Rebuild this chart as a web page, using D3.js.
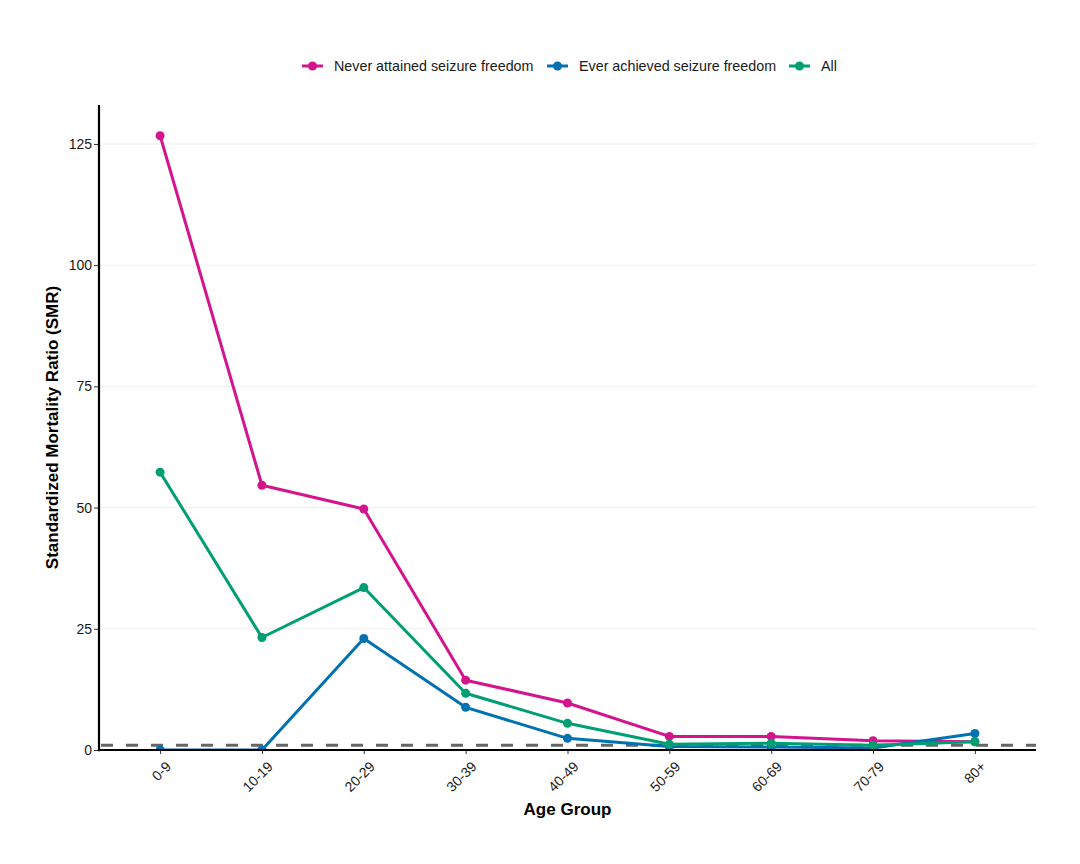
<!DOCTYPE html>
<html><head><meta charset="utf-8">
<script src="https://cdn.jsdelivr.net/npm/d3@7"></script>
<style>body{margin:0;background:#fff;font-family:"Liberation Sans",Arial,sans-serif}</style>
</head><body><div id="chart"></div>
<script>
const ageGroups = ["0-9","10-19","20-29","30-39","40-49","50-59","60-69","70-79","80+"];
const never = [126.7, 54.6, 49.7, 14.4, 9.7, 2.8, 2.8, 1.9, 1.7];
const ever = [0, 0, 23.0, 8.8, 2.4, 0.7, 0.6, 0.4, 3.4];
const all = [57.3, 23.2, 33.5, 11.7, 5.5, 1.2, 1.4, 1.0, 1.7];
const seriesNames = ["Never attained seizure freedom","Ever achieved seizure freedom","All"];
const seriesColors = ["#D4148C","#0072B2","#009E73"];
const yTicks = [0,25,50,75,100,125];
const refLine = 1;

const W=1080,H=864;
const m={left:99,right:1036,top:105,bottom:750};
const svg=d3.select("#chart").append("svg").attr("width",W).attr("height",H);

svg.append("defs").append("clipPath").attr("id","panel").append("rect")
  .attr("x",m.left).attr("y",m.top).attr("width",m.right-m.left).attr("height",m.bottom-m.top);

const x=d3.scalePoint().domain(ageGroups).range([m.left,m.right]).padding(0.6);
const yMax=d3.max(never)*1.05;
const y=d3.scaleLinear().domain([0,yMax]).range([m.bottom,m.top]);

const panel=svg.append("g").attr("clip-path","url(#panel)");

// grid
panel.append("g").selectAll("line").data(yTicks).join("line")
  .attr("x1",m.left).attr("x2",m.right).attr("y1",d=>y(d)).attr("y2",d=>y(d))
  .attr("stroke","#ebebeb").attr("stroke-width",0.8);

// ref line
panel.append("line").attr("x1",m.left+2).attr("x2",m.right).attr("y1",y(refLine)).attr("y2",y(refLine))
  .attr("stroke","#666").attr("stroke-width",3).attr("stroke-dasharray","12,13");

const data=[never,ever,all];
const line=d3.line().x((d,i)=>x(ageGroups[i])).y(d=>y(d));
data.forEach((s,k)=>{
  const g=panel.append("g");
  g.append("path").datum(s).attr("d",line).attr("fill","none")
   .attr("stroke",seriesColors[k]).attr("stroke-width",3).attr("stroke-linejoin","round");
  g.selectAll("circle").data(s).join("circle")
   .attr("cx",(d,i)=>x(ageGroups[i])).attr("cy",d=>y(d)).attr("r",4.5).attr("fill",seriesColors[k]);
});

// axes
const yAxis=svg.append("g").attr("transform",`translate(${m.left},0)`)
  .call(d3.axisLeft(y).tickValues(yTicks).tickSize(5).tickPadding(2));
yAxis.select(".domain").remove();
yAxis.selectAll("line").attr("stroke","#333");
yAxis.selectAll("text").attr("font-size",14).attr("fill","#1a1a1a").attr("font-family","Liberation Sans, Arial, sans-serif");
svg.append("line").attr("x1",m.left).attr("x2",m.left).attr("y1",m.top).attr("y2",m.bottom+1.2)
  .attr("stroke","#000").attr("stroke-width",2.2);

const xAxis=svg.append("g").attr("transform",`translate(0,${m.bottom})`)
  .call(d3.axisBottom(x).tickSize(4).tickPadding(3));
xAxis.select(".domain").remove();
xAxis.selectAll("line").attr("stroke","#333");
xAxis.selectAll("text").attr("font-size",14).attr("fill","#1a1a1a").attr("font-family","Liberation Sans, Arial, sans-serif")
  .attr("text-anchor","end").attr("dy","0.35em")
  .attr("transform","translate(3,9) rotate(-45)");
svg.append("line").attr("x1",m.left-1).attr("x2",m.right).attr("y1",m.bottom).attr("y2",m.bottom)
  .attr("stroke","#000").attr("stroke-width",2.2);

// titles
svg.append("text").attr("x",(m.left+m.right)/2).attr("y",815).attr("text-anchor","middle")
  .attr("font-size",17).attr("font-weight","bold").text("Age Group");
svg.append("text").attr("transform",`translate(58,${(m.top+m.bottom)/2}) rotate(-90)`).attr("text-anchor","middle")
  .attr("font-size",17).attr("font-weight","bold").text("Standardized Mortality Ratio (SMR)");

// legend
const legX=[302,547,789];
const lg=svg.append("g");
seriesNames.forEach((n,k)=>{
  const g=lg.append("g").attr("transform",`translate(${legX[k]},66)`);
  g.append("line").attr("x1",0).attr("x2",21).attr("stroke",seriesColors[k]).attr("stroke-width",3);
  g.append("circle").attr("cx",10.5).attr("r",4.5).attr("fill",seriesColors[k]);
  g.append("text").attr("x",32).attr("dy","0.35em").attr("font-size",14.3).attr("fill","#1a1a1a").text(n);
});
</script></body></html>
